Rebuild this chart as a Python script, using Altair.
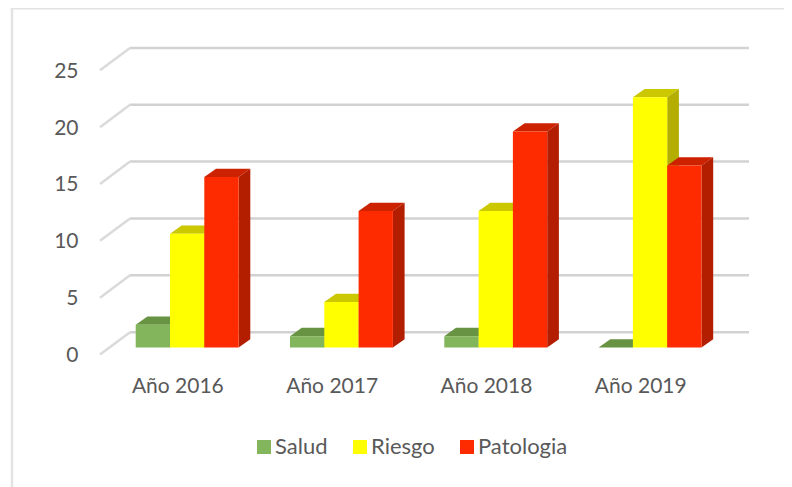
import altair as alt
import pandas as pd

categories = ["Año 2016", "Año 2017", "Año 2018", "Año 2019"]
series = ["Salud", "Riesgo", "Patologia"]
salud = [2, 1, 1, 0]
riesgo = [10, 4, 12, 22]
patologia = [15, 12, 19, 16]
y_ticks = [0, 5, 10, 15, 20, 25]
front = {"Salud": "#82B55C", "Riesgo": "#FFFF00", "Patologia": "#FF2B00"}
top = {"Salud": "#679343", "Riesgo": "#CCC800", "Patologia": "#CC2200"}
side = {"Salud": "#5A8039", "Riesgo": "#B3AE00", "Patologia": "#B31E00"}

W, H = 776, 471
PX_X0, PX_UX = 135.7 - 8, 154.3       # px of group 0 inside the plot, px per group
PX_Y0, PX_UY = 347.5 - 8, 11.37       # px of value 0 inside the plot, px per unit
x_dom = [-PX_X0 / PX_UX, (W - PX_X0) / PX_UX]
y_dom = [(PX_Y0 - H) / PX_UY, PX_Y0 / PX_UY]
BW = 34.3 / PX_UX
DX, DY = 11.7 / PX_UX, 8.3 / PX_UY
xs = alt.Scale(domain=x_dom, range=[0, W], nice=False, zero=False)
ys = alt.Scale(domain=y_dom, range=[H, 0], nice=False, zero=False)
x_axis = alt.Axis(
    values=[i + 0.27 for i in range(4)],
    labelExpr="%s[floor(datum.value)]" % str(categories),
    domain=False, ticks=False, grid=False, title=None, orient="bottom",
    offset=-(479 - 375), labelFont="Lato", labelFontSize=21, labelColor="#595959", labelPadding=0)
y_axis = alt.Axis(
    values=y_ticks, domain=False, ticks=False, grid=False, title=None, orient="left",
    offset=-(78 - 8), labelFont="Lato", labelFontSize=21, labelColor="#595959",
    labelPadding=0, labelOffset=8)
X = alt.X("x:Q", scale=xs, axis=x_axis)
Y = alt.Y("y:Q", scale=ys, axis=y_axis)

values = dict(zip(series, [salud, riesgo, patologia]))
layers = []

# outer frame (left and top edges of the chart box)
PX = 1 / PX_UX
frame_left = pd.DataFrame({"x": [x_dom[0] + 4 * PX], "y": [y_dom[1]], "y2": [y_dom[0] - 8 / PX_UY]})
frame_top = pd.DataFrame({"x": [x_dom[0] + 4 * PX], "x2": [x_dom[1]], "y": [y_dom[1] - 0.5 / PX_UY]})
layers.append(alt.Chart(frame_left).mark_rule(color="#E3E3E3", strokeWidth=2.5).encode(x=X, y=Y, y2="y2:Q"))
layers.append(alt.Chart(frame_top).mark_rule(color="#E3E3E3", strokeWidth=2).encode(x=X, x2="x2:Q", y=Y))

# walls: gridlines and floor diagonals
BACK = 1.35
FRONT = -0.62
GX0, GX1 = (130 - 135.7) / PX_UX, (749 - 135.7) / PX_UX
DX0 = (100 - 135.7) / PX_UX
grid = pd.DataFrame({"x": [GX0] * 6, "x2": [GX1] * 6, "y": [v + BACK for v in y_ticks]})
diag = pd.DataFrame({"x": [DX0] * 6, "x2": [GX0] * 6,
                     "y": [v + FRONT for v in y_ticks], "y2": [v + BACK for v in y_ticks]})
layers.append(alt.Chart(grid).mark_rule(color="#D2D2D2", strokeWidth=2.5).encode(x=X, x2="x2:Q", y=Y))
layers.append(alt.Chart(diag).mark_rule(color="#DADADA", strokeWidth=2.5).encode(x=X, x2="x2:Q", y=Y, y2="y2:Q"))

# bars: top face, side face, front face for each series
for s in series:
    rows = [{"i": i, "v": v} for i, v in enumerate(values[s])]
    off = series.index(s) * BW
    top_rows, side_rows = [], []
    for r in rows:
        x0 = r["i"] + off
        x1 = x0 + BW
        v = r["v"]
        top_rows += [{"g": r["i"], "y": v, "x": x0, "x2": x1},
                     {"g": r["i"], "y": v + DY, "x": x0 + DX, "x2": x1 + DX}]
        side_rows += [{"g": r["i"], "x": x1, "y": v, "y2": 0},
                      {"g": r["i"], "x": x1 + DX, "y": v + DY, "y2": DY}]
    layers.append(alt.Chart(pd.DataFrame(top_rows)).mark_area(color=top[s], orient="horizontal", interpolate="linear").encode(
        y=Y, x=X, x2="x2:Q", detail="g:N"))
    layers.append(alt.Chart(pd.DataFrame(side_rows)).mark_area(color=side[s], interpolate="linear").encode(
        x=X, y=Y, y2="y2:Q", detail="g:N"))
    fr = pd.DataFrame([{"x": r["i"] + off, "x2": r["i"] + off + BW, "y": r["v"], "y2": 0, "s": s} for r in rows])
    layers.append(alt.Chart(fr).mark_rect().encode(
        x=X, x2="x2:Q", y=Y, y2="y2:Q",
        color=alt.Color("s:N", scale=alt.Scale(domain=series, range=[front[k] for k in series]),
                        legend=alt.Legend(orient="none", legendX=256 - 8 - 3, legendY=436 - 8, direction="horizontal",
                                          title=None, symbolType="square", symbolSize=196, symbolStrokeWidth=0,
                                          labelFont="Lato", labelFontSize=22, labelColor="#595959",
                                          columnPadding=21, labelOffset=0, values=series)),
    ))

chart = alt.layer(*layers).properties(
    width=W, height=H,
    padding={"left": 0, "top": 0, "right": 0, "bottom": 8},
    autosize=alt.AutoSizeParams(type="none"),
).configure_view(stroke=None)
chart.save("out.html", embed_options={"renderer": "svg", "actions": False})
